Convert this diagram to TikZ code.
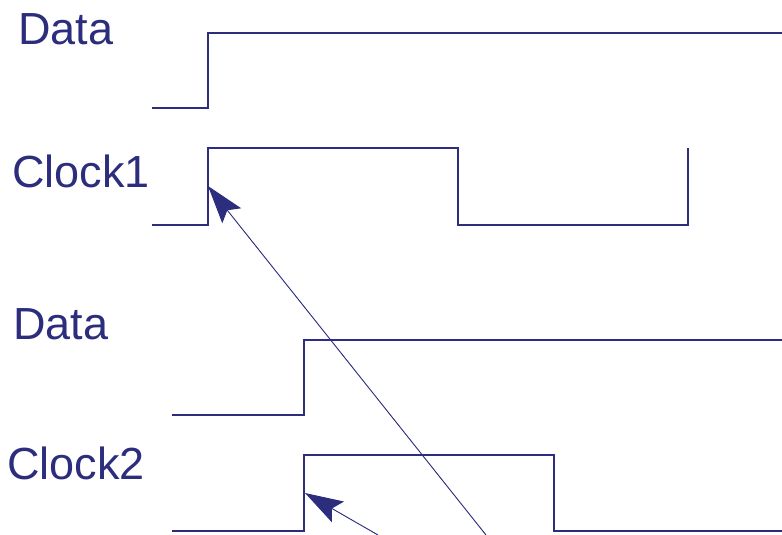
\documentclass[tikz,border=0pt]{standalone}
\usepackage{fontspec}
\setmainfont{Liberation Sans}
\usetikzlibrary{arrows.meta}
\definecolor{sigblue}{RGB}{44,46,125}
\tikzset{
  signal/.style={draw=sigblue, line width=1.3pt},
  sigtext/.style={anchor=base west, inner sep=0pt, text=sigblue, font=\fontsize{45}{50}\selectfont},
  pointer/.style={draw=sigblue, line width=0.9pt, -{Stealth[length=38pt, width=24pt, inset=7pt]}, fill=sigblue}
}
\begin{document}
\begin{tikzpicture}[x=1pt, y=-1pt]
            \useasboundingbox (0,0) rectangle (782,535);

            % labels
            \node[sigtext] (data1) at (18,45) {Data};
            \node[sigtext] (clk1) at (12,187) {Clock1};
            \node[sigtext] (data2) at (13,339) {Data};
            \node[sigtext] (clk2) at (7,479) {Clock2};

            % waveforms
            \draw[signal] (152,108) -- (208,108) -- (208,33) -- (782,33);
            \draw[signal] (152,225) -- (208,225) -- (208,148) -- (458,148) -- (458,225) -- (688,225) -- (688,148);
            \draw[signal] (172,415) -- (304,415) -- (304,340) -- (782,340);
            \draw[signal] (172,531) -- (304,531) -- (304,455) -- (554,455) -- (554,531) -- (782,531);

            % edges pointed at
            \coordinate (edge1) at (208,186);
            \coordinate (edge2) at (305,493);
            \coordinate (from1) at (486,535);
            \coordinate (from2) at (378,535);
            \draw[pointer] (from1) -- (edge1);
            \draw[pointer] (from2) -- (edge2);
        \end{tikzpicture}
\end{document}
